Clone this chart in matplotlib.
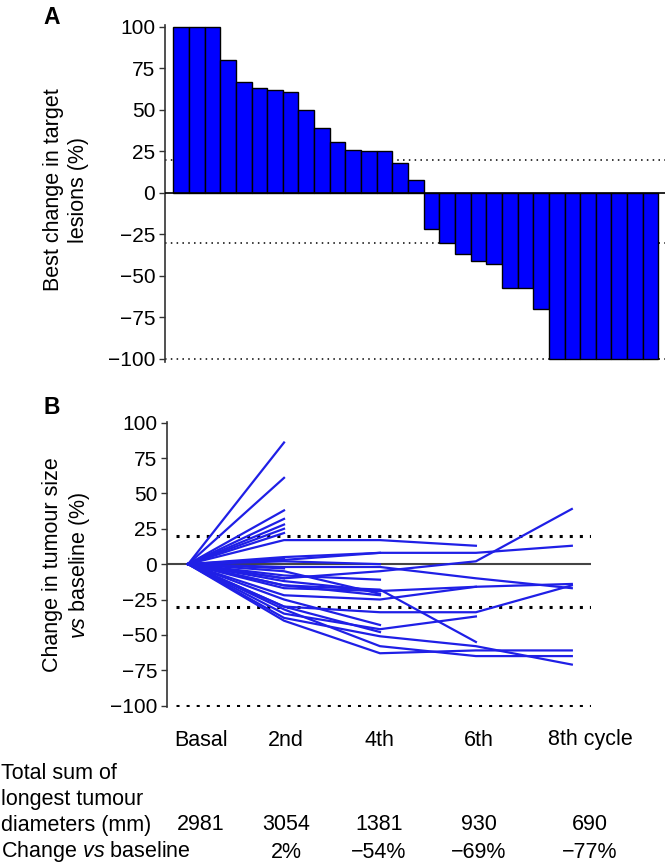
import matplotlib
matplotlib.use("Agg")
import matplotlib.pyplot as plt
import matplotlib.transforms as mtransforms

plt.rcParams['font.family'] = ['Liberation Sans', 'DejaVu Sans']
plt.rcParams['mathtext.fontset'] = 'custom'
plt.rcParams['mathtext.rm'] = 'Liberation Sans'
plt.rcParams['mathtext.it'] = 'Liberation Sans:italic'

# ---------------- Data ----------------
# Panel A: best change in target lesions (%) per patient (waterfall)
best_change = [100, 100, 100, 80, 67, 63, 62, 61, 50, 39, 31, 26, 25, 25, 18, 8,
               -22, -30, -37, -41, -43, -57, -57, -70,
               -100, -100, -100, -100, -100, -100, -100]
a_ticks = [100, 75, 50, 25, 0, -25, -50, -75, -100]
a_thresholds = [20, -30, -100]

# Panel B: change in tumour size vs baseline (%) per patient over cycles
cycles = ["Basal", "2nd", "4th", "6th", "8th cycle"]
b_ticks = [100, 75, 50, 25, 0, -25, -50, -75, -100]
b_thresholds = [20, -30, -100]
lines_to_2nd = [[0, 86], [0, 61], [0, 38], [0, 32], [0, 28], [0, 25],
                [0, 22], [0, 4], [0, -3], [0, -10]]
lines_to_4th = [[0, 3, 8], [0, 2, 0], [0, -8, -11], [0, -12, -19],
                [0, -25, -43], [0, -30, -48], [0, -5, -21], [0, -15, -22]]
lines_to_6th = [[0, 17, 17, 13], [0, -15, -18, -55], [0, -35, -46, -37],
                [0, -22, -25, -16]]
lines_to_8th = [[0, 5, 8, 8, 13], [0, -10, -5, 2, 39], [0, -2, -2, -10, -17],
                [0, -17, -19, -16, -14], [0, -30, -34, -34, -15],
                [0, -38, -51, -58, -71], [0, -32, -58, -65, -65],
                [0, -40, -63, -61, -61]]

# Table under panel B
table_row1_label = "Total sum of\nlongest tumour\ndiameters (mm)"
table_row1 = ["2981", "3054", "1381", "930", "690"]
table_row2_label = "Change $\\it{vs}$ baseline"
table_row2 = ["", "2%", "\u221254%", "\u221269%", "\u221277%"]

# ---------------- Figure ----------------
W, H = 667, 864
fig = plt.figure(figsize=(W / 100, H / 100), dpi=100)
FS = 15.5
TFS = 15
BLUE = "#0000ff"
LBLUE = "#1f1fe6"

def fx(px):
    return px / W

def fy(py):
    return 1 - py / H

# ----- Panel A -----
axA = fig.add_axes([fx(165), fy(362.3), fx(500), (362.3 - 25.3) / H])
xa = list(range(len(best_change)))
axA.bar(xa, best_change, width=1.0, color=BLUE, edgecolor="black",
        linewidth=1.0, zorder=3)
axA.set_xlim(-1.03, len(best_change) - 0.5 + 0.42)
axA.set_ylim(-102, 101)
for t in a_thresholds:
    axA.axhline(t, color="black", linestyle=(0, (1, 2.8)), linewidth=1.1,
                zorder=1)
axA.axhline(0, color="black", linewidth=1.2, zorder=4)
axA.set_yticks(a_ticks)
axA.set_yticklabels([str(t).replace("-", "\u2212") for t in a_ticks])
axA.set_xticks([])
for s in ["top", "right", "bottom"]:
    axA.spines[s].set_visible(False)
axA.spines["left"].set_linewidth(1.2)
axA.spines["left"].set_color("#333333")
axA.tick_params(axis="y", direction="out", length=4, width=1,
                labelsize=TFS, pad=3, colors="#333333", labelcolor="black")
fig.text(fx(66), fy(190), "Best change in target\nlesions (%)", rotation=90,
         ha="center", va="center", fontsize=FS, multialignment="center")
fig.text(fx(52), fy(17), "A", fontsize=FS + 1, fontweight="bold",
         ha="center", va="center")

# ----- Panel B -----
axB = fig.add_axes([fx(167), fy(707), fx(424), (707 - 422) / H])
axB.set_xlim(-0.22, 4.2)
axB.set_ylim(-101, 100.5)
for t in b_thresholds:
    axB.hlines(t, -0.13, 4.2, color="black", linestyle=(0, (1, 2.3)),
               linewidth=2.2, zorder=1)
axB.hlines(0, -0.22, 4.2, color="#444444", linewidth=1.5, zorder=2)
for group in (lines_to_2nd, lines_to_4th, lines_to_6th, lines_to_8th):
    for series in group:
        axB.plot(range(len(series)), series, color=LBLUE, linewidth=1.6,
                 zorder=3)
axB.set_yticks(b_ticks)
axB.set_yticklabels([str(t).replace("-", "\u2212") for t in b_ticks])
axB.set_xticks([])
for s in ["top", "right", "bottom"]:
    axB.spines[s].set_visible(False)
axB.spines["left"].set_linewidth(1.2)
axB.spines["left"].set_color("#333333")
axB.tick_params(axis="y", direction="out", length=4, width=1,
                labelsize=TFS, pad=3, colors="#333333", labelcolor="black")
fig.text(fx(67), fy(565), "Change in tumour size\n$\\it{vs}$ baseline (%)",
         rotation=90, ha="center", va="center", fontsize=FS,
         multialignment="center")
fig.text(fx(52), fy(407), "B", fontsize=FS + 1, fontweight="bold",
         ha="center", va="center")

# category labels and table rows, aligned with cycle columns
label_offsets = [0.13, 0.02, -0.01, 0.03, 0.19]
trans = mtransforms.blended_transform_factory(axB.transData, fig.transFigure)
for i, (lab, off) in enumerate(zip(cycles, label_offsets)):
    axB.text(i + off, fy(740), lab, transform=trans, ha="center",
             va="center", fontsize=FS, clip_on=False)
    axB.text(i + off, fy(825), table_row1[i], transform=trans, ha="center",
             va="center", fontsize=FS, clip_on=False)
    if table_row2[i]:
        axB.text(i + off, fy(852), table_row2[i], transform=trans,
                 ha="center", va="center", fontsize=FS, clip_on=False)

fig.text(fx(1), fy(831), table_row1_label, ha="left", va="baseline",
         fontsize=FS, linespacing=1.3)
fig.text(fx(1), fy(852), table_row2_label, ha="left", va="center",
         fontsize=FS)

fig.savefig("out.png", dpi=100)
